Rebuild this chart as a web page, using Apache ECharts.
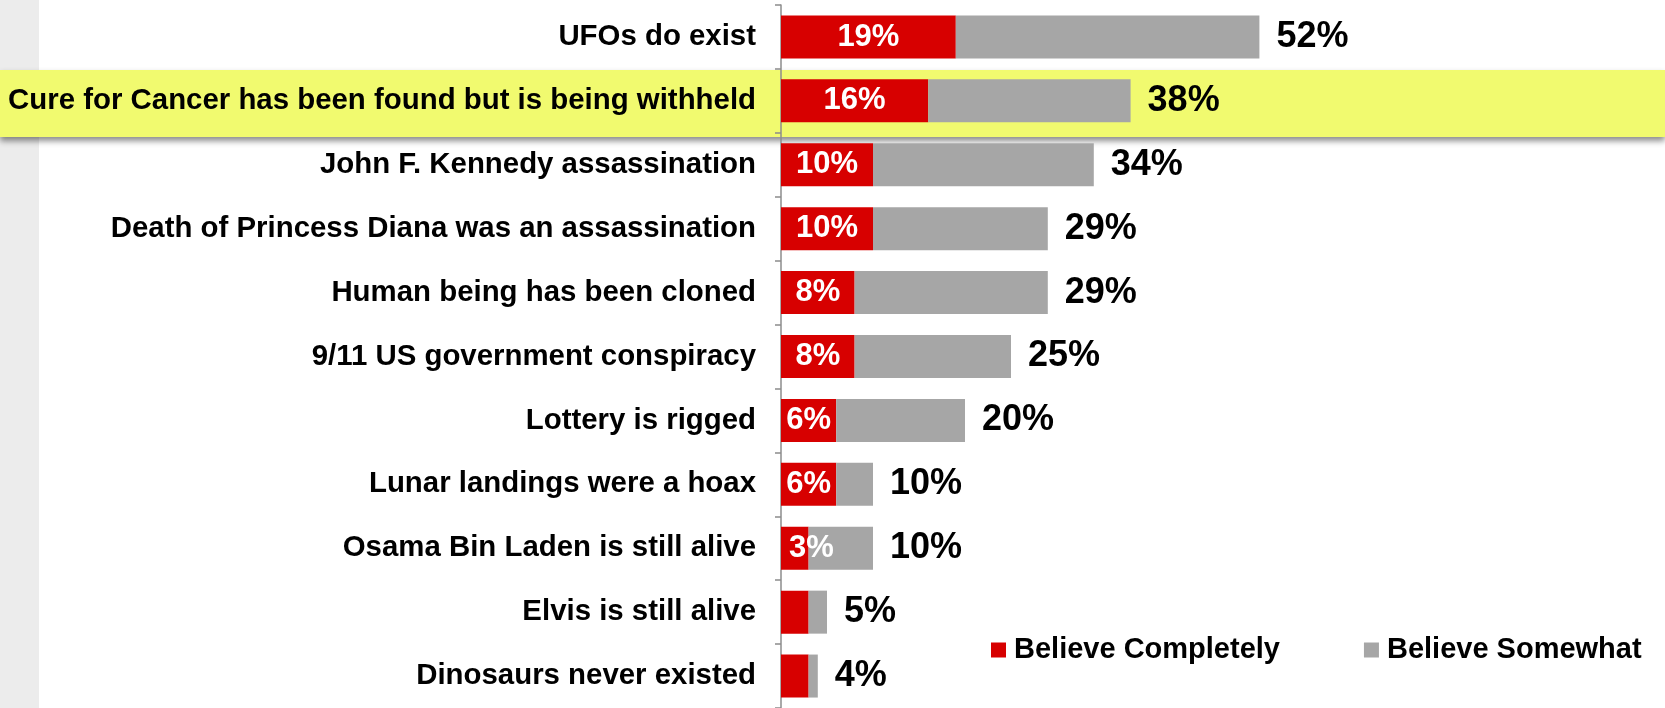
<!DOCTYPE html>
<html>
<head>
<meta charset="utf-8">
<title>Conspiracy beliefs</title>
<script src="https://cdn.jsdelivr.net/npm/echarts@6/dist/echarts.min.js"></script>
<style>
  html, body { margin: 0; padding: 0; background: #ffffff; }
  #chart { width: 1665px; height: 708px; }
</style>
</head>
<body>
<div id="chart"></div>
<script>
// Statements, listed top to bottom
const statements = [
  'UFOs do exist',
  'Cure for Cancer has been found but is being withheld',
  'John F. Kennedy assassination',
  'Death of Princess Diana was an assassination',
  'Human being has been cloned',
  '9/11 US government conspiracy',
  'Lottery is rigged',
  'Lunar landings were a hoax',
  'Osama Bin Laden is still alive',
  'Elvis is still alive',
  'Dinosaurs never existed'
];

// Share of respondents (%)
const believeCompletely = [19, 16, 10, 10, 8, 8, 6, 6, 3, 3, 3];
const believeSomewhat   = [33, 22, 24, 19, 21, 17, 14, 4, 7, 2, 1];

// Row that gets the yellow highlight band
const highlightIndex = 1;

const FONT = "'Liberation Sans', Arial, Helvetica, sans-serif";
const RED = '#D70000';
const GREY = '#A6A6A6';

const chart = echarts.init(document.getElementById('chart'), null, { renderer: 'canvas' });

const gridTop = 5;
const rowHeight = 64.6;

const completelyData = believeCompletely.map((v, i) => {
  const item = { value: v };
  if (i >= 9) {
    item.label = { show: false };
  } else if (v <= 3) {
    item.label = { position: 'insideLeft', distance: 8 };
  }
  return item;
});

const option = {
  animation: false,
  backgroundColor: '#ffffff',
  textStyle: { fontFamily: FONT },
  graphic: [
    {
      type: 'rect',
      z: -20,
      silent: true,
      shape: { x: 0, y: 0, width: 39, height: 708 },
      style: { fill: '#ECECEC' }
    },
    {
      type: 'rect',
      z: -10,
      silent: true,
      shape: { x: 0, y: gridTop + rowHeight * highlightIndex + 0.5, width: 1665, height: 67 },
      style: {
        fill: '#F1FA6F',
        shadowColor: 'rgba(0,0,0,0.45)',
        shadowBlur: 6,
        shadowOffsetY: 4
      }
    }
  ],
  legend: {
    left: 991,
    top: 635,
    padding: 0,
    icon: 'rect',
    itemWidth: 15,
    itemHeight: 15,
    itemGap: 84,
    selectedMode: false,
    textStyle: {
      fontFamily: FONT,
      fontSize: 29,
      fontWeight: 'bold',
      color: '#000',
      lineHeight: 30,
      padding: [0, 0, 0, 3]
    },
    data: ['Believe Completely', 'Believe Somewhat']
  },
  grid: {
    left: 781,
    top: gridTop,
    width: 552,
    height: rowHeight * statements.length,
    containLabel: false
  },
  xAxis: {
    type: 'value',
    min: 0,
    max: 60,
    show: false
  },
  yAxis: {
    type: 'category',
    inverse: true,
    data: statements,
    axisLine: { show: true, lineStyle: { color: '#8C8C8C', width: 1.5 } },
    axisTick: { show: true, length: 6, lineStyle: { color: '#8C8C8C', width: 1.5 } },
    axisLabel: {
      margin: 25,
      fontFamily: FONT,
      fontSize: 29.4,
      fontWeight: 'bold',
      color: '#000'
    },
    splitLine: { show: false }
  },
  series: [
    {
      name: 'Believe Completely',
      type: 'bar',
      stack: 'belief',
      barWidth: 43,
      itemStyle: { color: RED },
      label: {
        show: true,
        position: 'inside',
        formatter: '{c}%',
        fontFamily: FONT,
        fontSize: 31,
        fontWeight: 'bold',
        color: '#fff'
      },
      data: completelyData
    },
    {
      name: 'Believe Somewhat',
      type: 'bar',
      stack: 'belief',
      barWidth: 43,
      itemStyle: { color: GREY },
      label: {
        show: true,
        position: 'right',
        distance: 17,
        formatter: (p) => (believeCompletely[p.dataIndex] + believeSomewhat[p.dataIndex]) + '%',
        fontFamily: FONT,
        fontSize: 36,
        fontWeight: 'bold',
        color: '#000'
      },
      data: believeSomewhat
    }
  ]
};

chart.setOption(option);
</script>
</body>
</html>
